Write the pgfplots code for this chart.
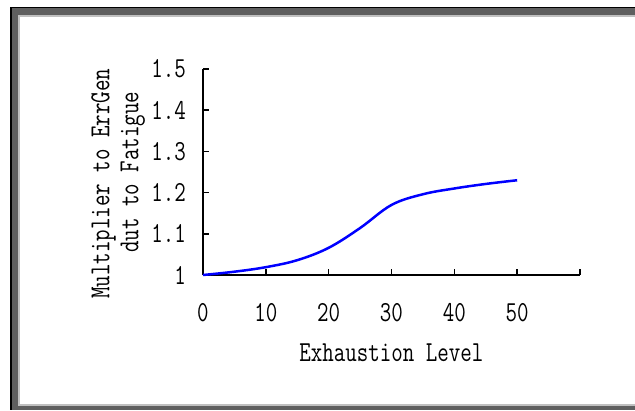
\documentclass[border=0pt]{standalone}
\usepackage{fontspec}
\setmainfont[FakeStretch=0.77]{Latin Modern Mono}
\usepackage{pgfplots}
\pgfplotsset{compat=1.18}

\definecolor{frameblack}{RGB}{0,0,0}
\definecolor{framegray}{RGB}{95,95,95}
\definecolor{framelight}{RGB}{192,192,192}
\newcommand\chf{\fontsize{29}{29}\selectfont}

\begin{document}
\begin{tikzpicture}
% page: 635 x 410, axis origin at pixel (203,275)
\useasboundingbox (-203pt,-135pt) rectangle (432pt,275pt);
\fill[white] (-203pt,-135pt) rectangle (432pt,275pt);
\fill[frameblack] (-193pt,-135pt) rectangle (432pt,268pt);
\fill[framegray] (-191pt,-135pt) rectangle (432pt,267pt);
\fill[framelight] (-185pt,-131pt) rectangle (432pt,260pt);
\fill[white] (-183pt,-129pt) rectangle (432pt,258pt);

\begin{axis}[
    at={(0pt,0pt)}, anchor=south west,
    scale only axis,
    x=6.283pt, y=412pt,
    xmin=0, xmax=60, ymin=1, ymax=1.5,
    axis lines=left,
    axis line style={-, line width=1.6pt, black},
    xtick={0,10,...,60},
    xticklabels={0,10,20,30,40,50,},
    ytick={1,1.1,1.2,1.3,1.4,1.5},
    yticklabels={1,1.1,1.2,1.3,1.4,1.5},
    tick align=inside,
    major tick length=6pt,
    tick style={line width=1.6pt, black},
    every tick label/.append style={font=\chf},
    xticklabel style={anchor=center, yshift=-38pt},
    yticklabel style={anchor=east, inner sep=0pt, xshift=-17pt},
    xlabel={Exhaustion Level},
    xlabel style={font=\chf, at={(axis description cs:0.5,-0.376)}, anchor=center},
    ylabel={Multiplier to ErrGen\\\phantom{xx}dut to Fatigue},
    ylabel style={font=\chf, align=center, at={(axis description cs:-0.225,0.442)}, anchor=center},
    clip=false,
]
\addplot[blue, line width=2.5pt, smooth, tension=0.6] coordinates {
(0,1.000) (5,1.008) (10,1.019) (15,1.036) (20,1.066)
(25,1.114) (30,1.170) (35,1.196) (40,1.210) (45,1.221) (50,1.230)
};
\end{axis}
\end{tikzpicture}
\end{document}
